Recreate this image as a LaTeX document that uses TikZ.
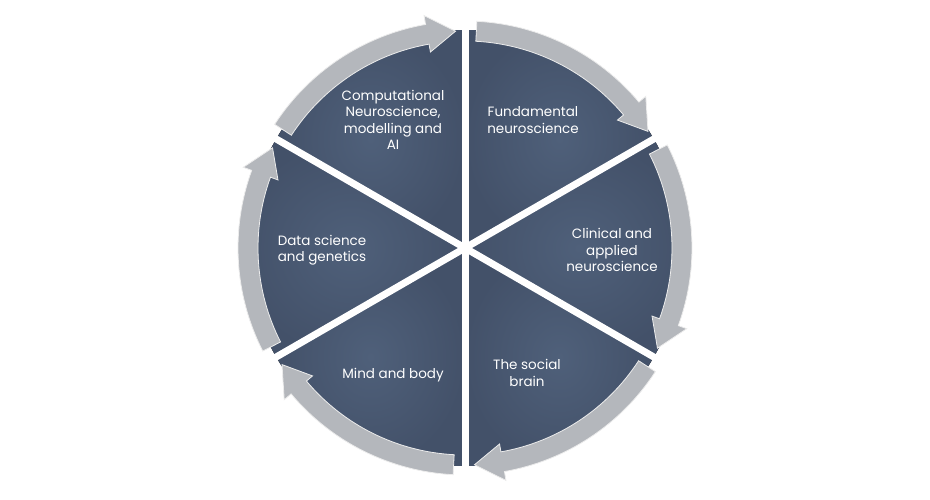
\documentclass[tikz,border=0pt]{standalone}
\usepackage{fontspec}
\setmainfont{Poppins}
\usetikzlibrary{calc}
\definecolor{slate}{HTML}{435169}
\definecolor{slatelight}{HTML}{4F607A}
\definecolor{ringgrey}{HTML}{B4B7BC}
\tikzset{
  sector/.style={inner color=slatelight, outer color=slate},
  ring/.style={fill=ringgrey, draw=white!85!gray, line width=0.8pt},
  label/.style={text=white, align=center, font=\fontsize{13.5}{16.5}\selectfont}
}
\begin{document}
\begin{tikzpicture}[x=1pt,y=1pt]
  \useasboundingbox (0,0) rectangle (930,500);
  \coordinate (c) at (465,252);
  % sectors
  \foreach \a in {90,30,-30,-90,-150,-210}
    \fill[sector] (c) -- ++(\a:218) arc[start angle=\a, end angle=\a-60, radius=218] -- cycle;
  % white dividers
  \foreach \a in {90,30,-30,-90,-150,-210}
    \draw[white, line width=7pt] (c) -- ++(\a:245);
  % arrows on the ring
  \foreach \a in {90,30,-30,-90,-150,-210}{
    \path[ring, shift={(c)}]
      (\a-3:207) arc[start angle=\a-3, end angle=\a-50, radius=207]
      -- (\a-50:199) -- (\a-57.5:217) -- (\a-50:236)
      -- (\a-50:227) arc[start angle=\a-50, end angle=\a-3, radius=227] -- cycle;
  }
  % labels
  \node[label] (comp) at ($(c)+(-72,128)$) {Computational\\Neuroscience,\\modelling and\\AI};
  \node[label] (fund) at ($(c)+(68,128)$) {Fundamental\\neuroscience};
  \node[label] (clin) at ($(c)+(147,-2)$) {Clinical and\\applied\\neuroscience};
  \node[label] (soc) at ($(c)+(62,-125)$) {The social\\brain};
  \node[label] (mind) at ($(c)+(-72,-127)$) {Mind and body};
  \node[label, align=left] (data) at ($(c)+(-143,-2)$) {Data science\\and genetics};
\end{tikzpicture}
\end{document}
